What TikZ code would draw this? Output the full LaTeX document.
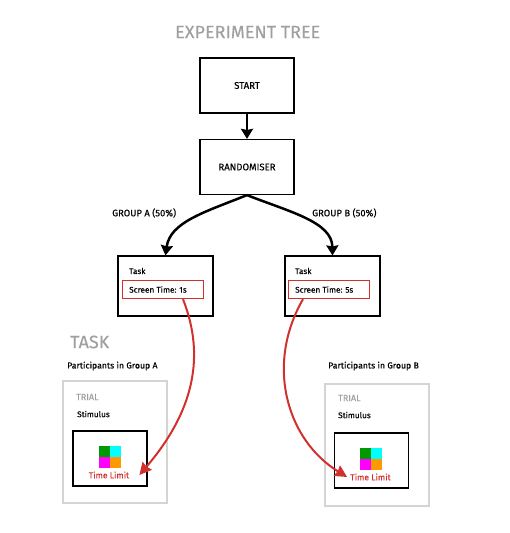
\documentclass[tikz,border=0pt]{standalone}
\usepackage{fontspec}
\setmainfont[FakeBold=0.25]{Fira Sans}
\usetikzlibrary{arrows.meta}
\definecolor{redline}{HTML}{D0312D}
\definecolor{greytext}{HTML}{A0A0A0}
\definecolor{greybox}{HTML}{D4D4D4}
\definecolor{cellgreen}{HTML}{009900}
\definecolor{cellcyan}{HTML}{00FFFF}
\definecolor{cellmagenta}{HTML}{FF00FF}
\definecolor{cellorange}{HTML}{FF9900}
\begin{document}
\begin{tikzpicture}[x=1pt, y=-1pt, font=\fontsize{8.2}{10}\selectfont,
      treebox/.style={draw, line width=1.2pt, minimum width=94pt, minimum height=55pt, inner sep=0pt, align=center, font=\fontsize{9.6}{11}\selectfont},
      taskbox/.style={draw, line width=1.2pt, minimum width=95pt, minimum height=60pt, inner sep=0pt},
      timebox/.style={draw=redline, line width=1.4pt, minimum width=81pt, minimum height=18pt, inner sep=0pt},
      trialbox/.style={draw=greybox, line width=1.4pt, minimum width=104pt, minimum height=122pt, inner sep=0pt},
      stimbox/.style={draw, line width=1.2pt, minimum width=74pt, minimum height=55pt, inner sep=0pt},
      cell/.style={minimum size=11pt, inner sep=0pt},
      label/.style={inner sep=0pt, anchor=west},
      heading/.style={label, text=greytext, font=\fontsize{18}{20}\selectfont},
      grouptext/.style={label, font=\fontsize{9.4}{11}\selectfont},
      parttext/.style={label, font=\fontsize{8.7}{10}\selectfont},
      trialtext/.style={label, text=greytext, font=\fontsize{9}{11}\selectfont},
      limittext/.style={inner sep=0pt, text=redline, font=\fontsize{8.5}{10}\selectfont},
      flowarr/.style={-{Stealth[length=10pt,width=12pt,inset=1pt]}, line width=2.5pt},
      redarr/.style={-{Stealth[length=12pt,width=12pt,inset=1pt]}, line width=2pt, redline}]
    \useasboundingbox (0,0) rectangle (509,533);
    \node[heading] (title) at (175,32) {EXPERIMENT TREE};
    \node[treebox] (start) at (247,85.5) {START};
    \node[treebox] (rand) at (247,167) {RANDOMISER};
    \node[grouptext] (groupa) at (112,213) {GROUP A (50\%)};
    \node[grouptext] (groupb) at (312,213) {GROUP B (50\%)};
    \node[taskbox] (taska) at (165.5,286) {};
    \node[taskbox] (taskb) at (332.5,286) {};
    \node[label] (taskatext) at (129,271) {Task};
    \node[label] (taskbtext) at (295,271) {Task};
    \node[timebox] (timea) at (163,289.5) {};
    \node[timebox] (timeb) at (329,289.5) {};
    \node[label] (timeatext) at (129,289.5) {Screen Time: 1s};
    \node[label] (timebtext) at (295,289.5) {Screen Time: 5s};
    \node[heading] (task) at (70,342) {TASK};
    \node[parttext] (parta) at (67,366) {Participants in Group A};
    \node[parttext] (partb) at (328,366) {Participants in Group B};
    \node[trialbox] (triala) at (115,442) {};
    \node[trialbox] (trialb) at (377,445) {};
    \node[trialtext] (trialatext) at (76,397) {TRIAL};
    \node[trialtext] (trialbtext) at (338,398) {TRIAL};
    \node[label] (stima) at (77,414) {Stimulus};
    \node[label] (stimb) at (338,415) {Stimulus};
    \node[stimbox] (boxa) at (110,458.5) {};
    \node[stimbox] (boxb) at (371.5,460.5) {};
    \node[cell, fill=cellgreen] (a1) at (104.5,451.5) {};
    \node[cell, fill=cellcyan] (a2) at (115.5,451.5) {};
    \node[cell, fill=cellmagenta] (a3) at (104.5,462) {};
    \node[cell, fill=cellorange] (a4) at (115.5,462) {};
    \node[cell, fill=cellgreen] (b1) at (365.5,453.5) {};
    \node[cell, fill=cellcyan] (b2) at (376.5,453.5) {};
    \node[cell, fill=cellmagenta] (b3) at (365.5,464) {};
    \node[cell, fill=cellorange] (b4) at (376.5,464) {};
    \node[limittext] (limita) at (109,475) {Time Limit};
    \node[limittext] (limitb) at (370.5,477) {Time Limit};
    \draw[flowarr] (start) -- (rand);
    \draw[flowarr] (rand.south) .. controls (205,212) and (170,222) .. (taska.north);
    \draw[flowarr] (rand.south) .. controls (290,212) and (332,222) .. (taskb.north);
    \draw[redarr] (timea.south -| 183,0) .. controls (205,355) and (195,410) .. ([xshift=10pt]limita.east);
    \draw[redarr] (timeb.south -| 303,0) .. controls (265,365) and (287,440) .. ([xshift=-3pt]limitb.west);
  \end{tikzpicture}
\end{document}
